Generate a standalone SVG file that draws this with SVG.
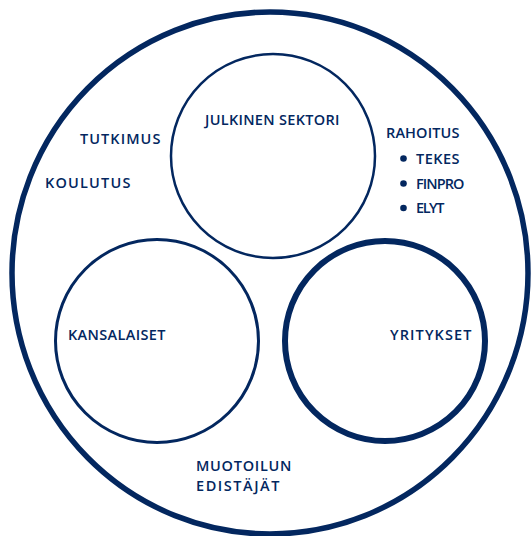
<svg xmlns="http://www.w3.org/2000/svg" width="532" height="536" viewBox="0 0 532 536">
<style>
.c{fill:none;stroke:#03275f}
text{font-family:"Open Sans","Liberation Sans",sans-serif;font-weight:600;font-size:14.5px;fill:#03275f;letter-spacing:0.6px}
</style>
<rect width="532" height="536" fill="#fff"/>
<g id="outer"><ellipse class="c" cx="270" cy="273" rx="258" ry="261" stroke-width="5.5"/></g>
<g id="julkinen">
<circle class="c" cx="273" cy="156" r="102" stroke-width="2.5"/>
<text x="205" y="125" textLength="135">JULKINEN SEKTORI</text>
</g>
<g id="kansalaiset">
<circle class="c" cx="157" cy="341" r="101.5" stroke-width="3"/>
<text x="68" y="340" textLength="98">KANSALAISET</text>
</g>
<g id="yritykset">
<circle class="c" cx="385" cy="341" r="100" stroke-width="6"/>
<text x="390" y="340" textLength="82">YRITYKSET</text>
</g>
<g id="tutkimus"><text x="80" y="144" textLength="81">TUTKIMUS</text></g>
<g id="koulutus"><text x="45" y="188" textLength="86">KOULUTUS</text></g>
<g id="rahoitus">
<text x="386" y="138" textLength="74">RAHOITUS</text>
<circle cx="403.5" cy="158.5" r="3.3" fill="#03275f"/>
<circle cx="403.5" cy="183.5" r="3.3" fill="#03275f"/>
<circle cx="403.5" cy="208" r="3.3" fill="#03275f"/>
<text x="416" y="164" textLength="44">TEKES</text>
<text x="416" y="189" textLength="49">FINPRO</text>
<text x="416" y="213" textLength="29">ELYT</text>
</g>
<g id="muotoilun">
<text x="196" y="471" textLength="96">MUOTOILUN</text>
<text x="196" y="491" textLength="84">EDISTÄJÄT</text>
</g>
<g id="connectors"></g>
</svg>
